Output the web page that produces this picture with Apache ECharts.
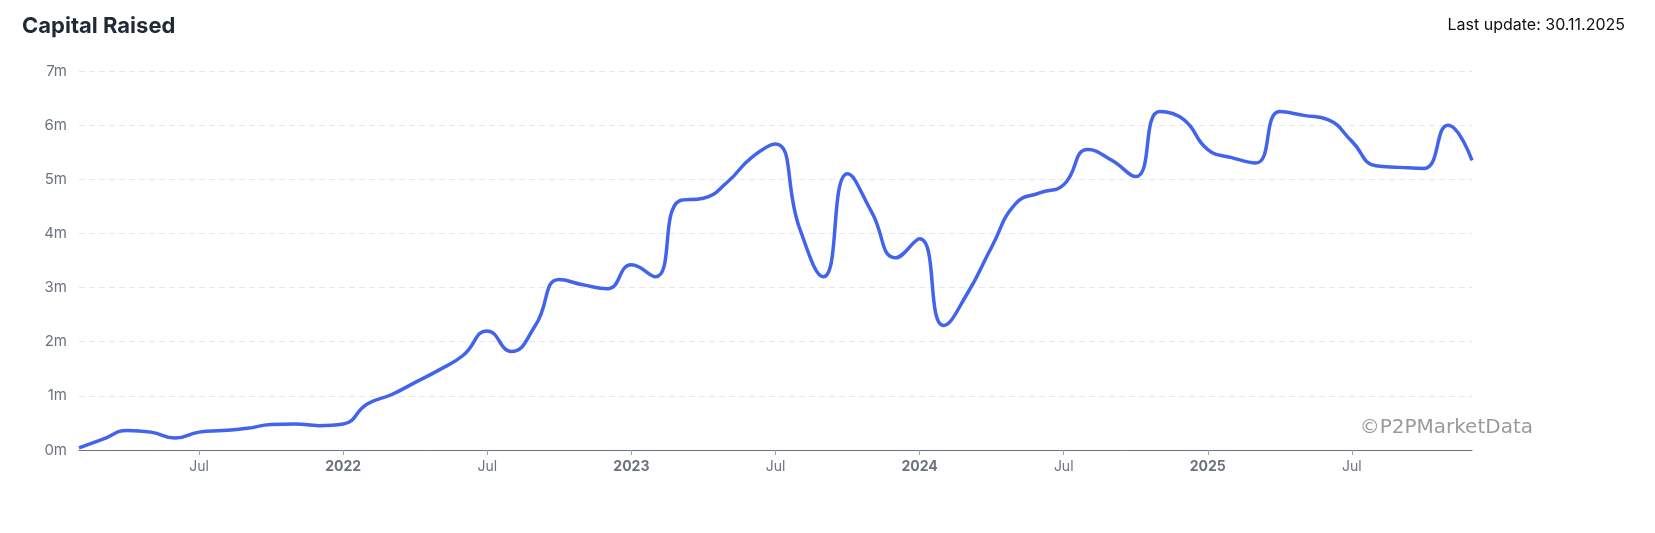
<!DOCTYPE html>
<html><head><meta charset="utf-8">
<script src="https://cdn.jsdelivr.net/npm/echarts@6/dist/echarts.min.js"></script>
<style>html,body{margin:0;padding:0;background:#fff}#c{width:1655px;height:533px}</style>
</head><body><div id="c"></div>
<script>
// month index: 0 = Jan 2021
const monthIndex = [1,2,3,4,5,6,7,8,9,10,11,12,13,14,15,16,17,18,19,20,21,22,23,24,25,26,27,28,29,30,31,32,33,34,35,36,37,38,39,40,41,42,43,44,45,46,47,48,49,50,51,52,53,54,55,56,57,58,59];
const capitalM = [0.04,0.2,0.36,0.33,0.22,0.33,0.36,0.4,0.47,0.48,0.45,0.48,0.85,1.02,1.25,1.48,1.75,2.2,1.82,2.3,3.15,3.05,2.98,3.42,3.2,4.6,4.65,4.95,5.4,5.65,4.1,3.2,5.1,4.4,3.55,3.9,2.3,2.9,3.75,4.55,4.75,4.9,5.55,5.35,5.05,6.25,6.1,5.55,5.4,5.3,6.25,6.18,6.1,5.7,5.25,5.22,5.2,6.0,5.35];
const tickMonths = [6,12,18,24,30,36,42,48,54];
const tickLabels = {6:'Jul',12:'2022',18:'Jul',24:'2023',30:'Jul',36:'2024',42:'Jul',48:'2025',54:'Jul'};

const chart = echarts.init(document.getElementById('c'));
chart.setOption({
  animation:false,
  textStyle:{fontFamily:'Inter, "Noto Sans", sans-serif'},
  graphic:[
    {type:'text',left:22,top:15,style:{text:'Capital Raised',font:'bold 22px Inter, sans-serif',fill:'#1f2937'}},
    {type:'text',right:30,top:17,style:{text:'Last update: 30.11.2025',font:'16px Inter, sans-serif',fill:'#111'}},
    {type:'text',right:122,top:418,style:{text:'©P2PMarketData',font:'20px "DejaVu Sans", sans-serif',fill:'#9a9a9a'}}
  ],
  grid:{left:79,right:183,top:71,bottom:83,containLabel:false},
  xAxis:{type:'value',min:1,max:59,
    axisLine:{show:true,lineStyle:{color:'#6b7280'}},
    axisTick:{show:true,customValues:tickMonths,length:5,lineStyle:{color:'#9ca3af'}},
    splitLine:{show:false},
    axisLabel:{customValues:tickMonths,color:'#6b7280',fontSize:14,margin:10,
      formatter:v=>{const t=tickLabels[v]||'';return t==='Jul'?t:'{b|'+t+'}';},
      rich:{b:{fontWeight:'bold',color:'#6b7280',fontSize:14}}}},
  yAxis:{type:'value',min:0,max:7,interval:1,
    axisLine:{show:false},axisTick:{show:false},
    axisLabel:{color:'#6b7280',fontSize:15,margin:12,formatter:v=>v+'m'},
    splitLine:{lineStyle:{color:'#e5e7eb',type:[6,4]}}},
  series:[{type:'line',data:monthIndex.map((m,i)=>[m,capitalM[i]]),smooth:0.5,showSymbol:false,
    lineStyle:{color:'#4263eb',width:3.5}}]
});
</script></body></html>
